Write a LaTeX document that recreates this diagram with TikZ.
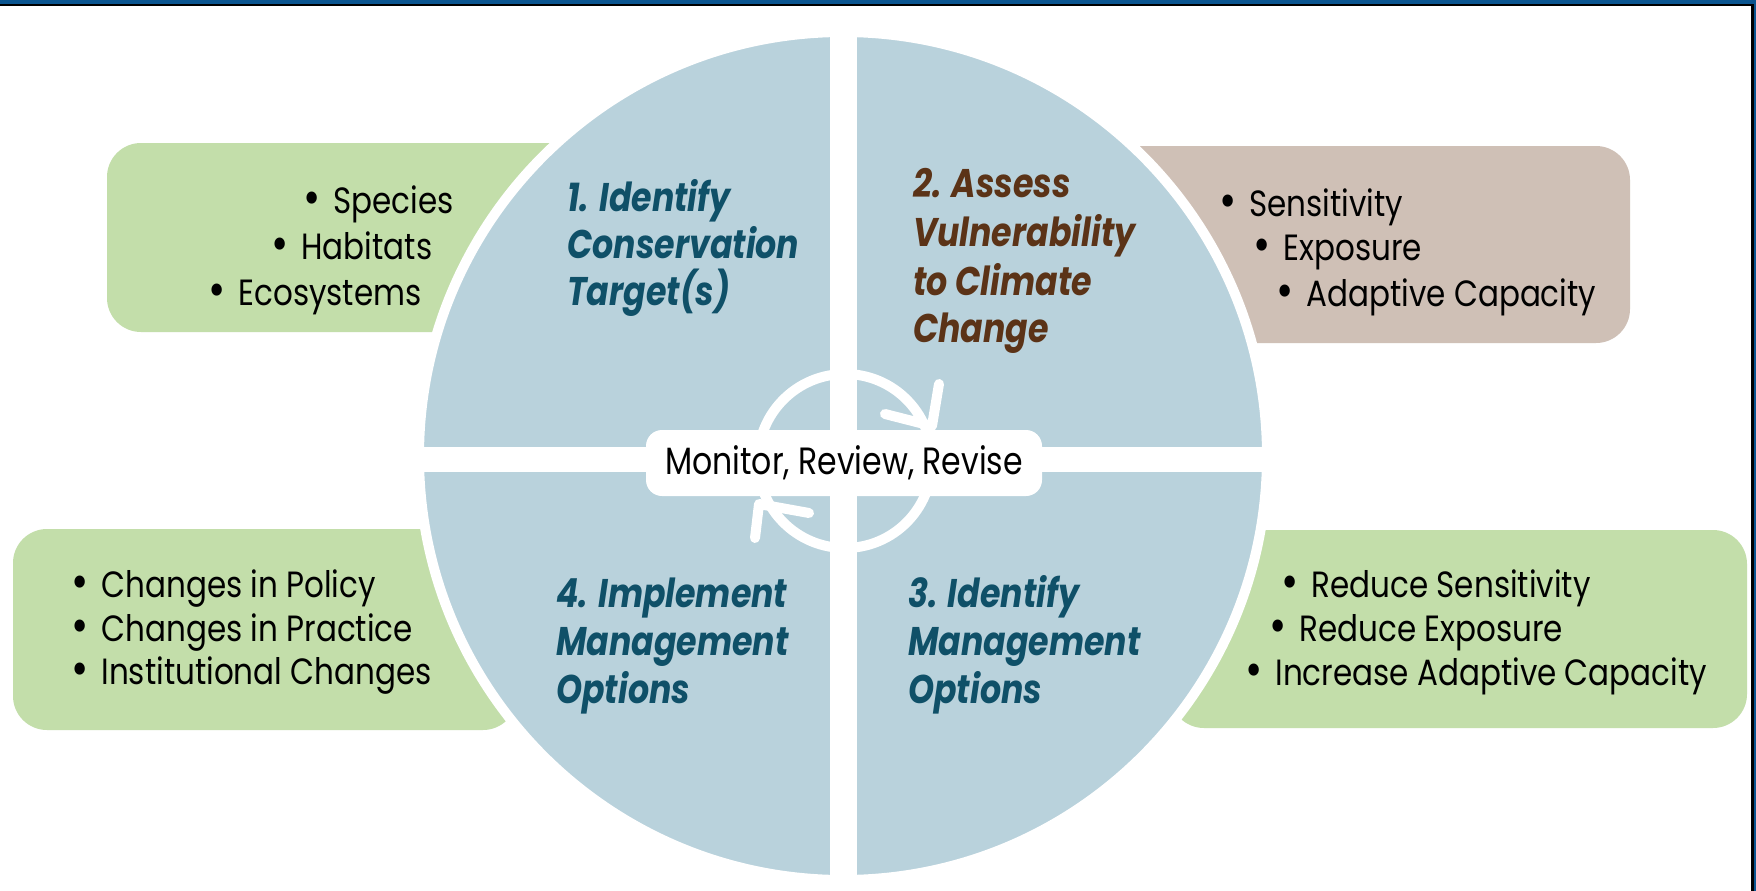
\documentclass[tikz,border=0pt]{standalone}
\usepackage{fontspec}
\newfontfamily\futura{Poppins}[FakeStretch=0.85]
\newfontfamily\futurab{Poppins}[FakeStretch=0.83]
\newcommand{\sidefont}{\futura\fontsize{36.5}{44}\selectfont}
\newcommand{\quadfont}{\futurab\bfseries\itshape\fontsize{40}{48}\selectfont}
\newcommand{\mrrfont}{\futurab\fontsize{38}{44}\selectfont}
\newcommand{\bul}{\raisebox{-1.5pt}{\scalebox{1.35}{\textbullet}}\hspace{13pt}}
\definecolor{qblue}{HTML}{B9D2DC}
\definecolor{boxgreen}{HTML}{C3DEAA}
\definecolor{boxtan}{HTML}{CFC0B6}
\definecolor{qteal}{HTML}{0F5068}
\definecolor{qbrown}{HTML}{5B3317}
\definecolor{frameblue}{HTML}{0B5590}
\tikzset{
  sidetext/.style={anchor=base west, inner sep=0pt, font=\sidefont, text=black},
  quadtext/.style={anchor=base west, inner sep=0pt, font=\quadfont},
  sidebox/.style={rounded corners=34pt},
  ringline/.style={draw=white, line width=10pt},
  arrowbarb/.style={draw=white, line width=10pt, line cap=round, line join=round},
}
\begin{document}
\begin{tikzpicture}[x=1pt,y=-1pt]
\useasboundingbox (0,0) rectangle (1756,891);
\fill[white] (0,0) rectangle (1756,891);
% side boxes
\fill[boxgreen, sidebox] (107,143) rectangle (700,332);
\fill[boxtan, sidebox] (1000,146) rectangle (1630,343);
\fill[boxgreen, sidebox] (13,529) rectangle (517,730);
\fill[boxgreen, sidebox] (1170,530) rectangle (1747,728);
% main circle
\filldraw[fill=qblue, draw=white, line width=10pt] (843,456) circle[radius=424];
\fill[white] (830,25) rectangle (857,889);
\fill[white] (412,447) rectangle (1274,472);
% cycle ring
\coordinate (rc) at (845,461);
\draw[ringline] (rc) circle[radius=87];
\coordinate (tipA) at (932,426);
\coordinate (barbA1) at (939,384);
\coordinate (barbA2) at (885,414);
\coordinate (tipB) at (759,504);
\coordinate (barbB1) at (755,538);
\coordinate (barbB2) at (809,513);
\draw[arrowbarb] (barbA1) -- (tipA) -- (barbA2);
\draw[arrowbarb] (barbB1) -- (tipB) -- (barbB2);
% center label
\node[fill=white, rounded corners=16pt, minimum width=396pt, minimum height=66pt, inner sep=0pt, font=\mrrfont] (mrr) at (844,463) {Monitor, Review, Revise};
% box 1 text
\node[sidetext] (s1) at (303,213) {\bul Species};
\node[sidetext] (s2) at (271,259) {\bul Habitats};
\node[sidetext] (s3) at (208,305) {\bul Ecosystems};
% box 2 text
\node[sidetext] (v1) at (1219,216) {\bul Sensitivity};
\node[sidetext] (v2) at (1253,260) {\bul Exposure};
\node[sidetext] (v3) at (1276,306) {\bul Adaptive Capacity};
% box 3 text
\node[sidetext] (c1) at (71,597) {\bul Changes in Policy};
\node[sidetext] (c2) at (71,641) {\bul Changes in Practice};
\node[sidetext] (c3) at (71,684) {\bul Institutional Changes};
% box 4 text
\node[sidetext] (r1) at (1281,597) {\bul Reduce Sensitivity};
\node[sidetext] (r2) at (1269,641) {\bul Reduce Exposure};
\node[sidetext] (r3) at (1245,685) {\bul Increase Adaptive Capacity};
% quadrant labels
\node[quadtext, text=qteal] (q1a) at (567,211) {1. Identify};
\node[quadtext, text=qteal] (q1b) at (567,258) {Conservation};
\node[quadtext, text=qteal] (q1c) at (567,305) {Target(s)};
\node[quadtext, text=qbrown] (q2a) at (913,197) {2. Assess};
\node[quadtext, text=qbrown] (q2b) at (913,246) {Vulnerability};
\node[quadtext, text=qbrown] (q2c) at (913,295) {to Climate};
\node[quadtext, text=qbrown] (q2d) at (913,342) {Change};
\node[quadtext, text=qteal] (q4a) at (556,607) {4. Implement};
\node[quadtext, text=qteal] (q4b) at (556,655) {Management};
\node[quadtext, text=qteal] (q4c) at (556,703) {Options};
\node[quadtext, text=qteal] (q3a) at (908,607) {3. Identify};
\node[quadtext, text=qteal] (q3b) at (908,655) {Management};
\node[quadtext, text=qteal] (q3c) at (908,703) {Options};
% frame
\fill[frameblue] (0,0) rectangle (1756,4);
\fill[black] (0,4) rectangle (1756,6);
\fill[black] (1751,4) rectangle (1754,891);
\fill[frameblue] (1754,0) rectangle (1756,891);
\end{tikzpicture}
\end{document}
